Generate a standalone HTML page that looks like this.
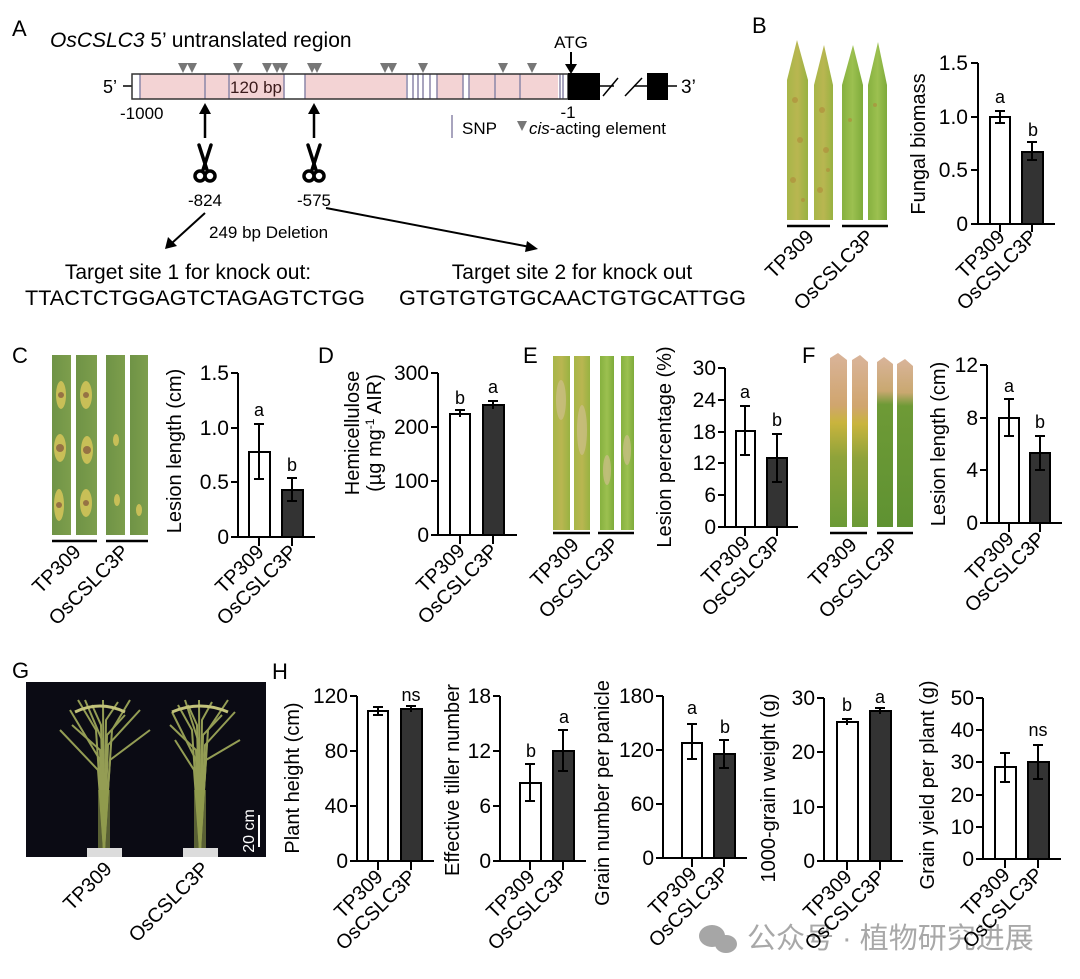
<!DOCTYPE html>
<html><head><meta charset="utf-8"><style>
html,body{margin:0;padding:0;background:#fff;}
svg{display:block;font-family:"Liberation Sans","Noto Sans CJK SC",sans-serif;}
.tk{font-size:21px;text-anchor:end}
.cl{font-size:20px;text-anchor:end}
.yl{font-size:20px;text-anchor:middle}
</style></head><body>
<svg width="1080" height="979" viewBox="0 0 1080 979" xmlns="http://www.w3.org/2000/svg">
<defs>
<linearGradient id="lfY" x1="0" x2="1"><stop offset="0" stop-color="#a7b648"/><stop offset="0.5" stop-color="#b9b651"/><stop offset="1" stop-color="#98b241"/></linearGradient>
<linearGradient id="lfG" x1="0" x2="1"><stop offset="0" stop-color="#86b13f"/><stop offset="0.5" stop-color="#9cc050"/><stop offset="1" stop-color="#7eab3a"/></linearGradient>
<linearGradient id="lfC" x1="0" x2="1"><stop offset="0" stop-color="#6f9346"/><stop offset="1" stop-color="#7d9e4c"/></linearGradient>
<linearGradient id="lfF" x1="0" x2="0" y1="0" y2="1"><stop offset="0" stop-color="#d9b49a"/><stop offset="0.3" stop-color="#d0a56e"/><stop offset="0.4" stop-color="#c9b43d"/><stop offset="0.6" stop-color="#8fa33a"/><stop offset="1" stop-color="#6b9a36"/></linearGradient>
<linearGradient id="lfF2" x1="0" x2="0" y1="0" y2="1"><stop offset="0" stop-color="#d9b49a"/><stop offset="0.2" stop-color="#c9a870"/><stop offset="0.28" stop-color="#6e9a36"/><stop offset="1" stop-color="#5f9232"/></linearGradient>
</defs>

<!-- ============ PANEL A ============ -->
<text x="12" y="36" font-size="22">A</text>
<text x="50" y="47" font-size="21"><tspan font-style="italic">OsCSLC3</tspan> 5’ untranslated region</text>
<text x="103" y="93" font-size="18">5’</text>
<line x1="123" y1="86" x2="132" y2="86" stroke="#000" stroke-width="1.5"/>
<rect x="132" y="74" width="436" height="25" fill="#f3d3d4"/>
<rect x="132" y="74" width="8" height="25" fill="#fff"/>
<rect x="284" y="74" width="21" height="25" fill="#fff"/>
<rect x="406" y="74" width="31" height="25" fill="#fff"/>
<rect x="463" y="74" width="6" height="25" fill="#fff"/>
<rect x="558" y="74" width="10" height="25" fill="#fff"/>
<g stroke="#8b86a8" stroke-width="1.5">
<line x1="140" y1="74" x2="140" y2="99"/><line x1="205" y1="74" x2="205" y2="99"/>
<line x1="229" y1="74" x2="229" y2="99"/><line x1="284" y1="74" x2="284" y2="99"/>
<line x1="305" y1="74" x2="305" y2="99"/><line x1="407" y1="74" x2="407" y2="99"/>
<line x1="413" y1="74" x2="413" y2="99"/><line x1="418" y1="74" x2="418" y2="99"/>
<line x1="423" y1="74" x2="423" y2="99"/><line x1="430" y1="74" x2="430" y2="99"/>
<line x1="437" y1="74" x2="437" y2="99"/><line x1="463" y1="74" x2="463" y2="99"/>
<line x1="469" y1="74" x2="469" y2="99"/><line x1="495" y1="74" x2="495" y2="99"/>
<line x1="520" y1="74" x2="520" y2="99"/><line x1="560" y1="74" x2="560" y2="99"/>
<line x1="563" y1="74" x2="563" y2="99"/>
</g>
<rect x="132" y="74" width="436" height="25" fill="none" stroke="#333" stroke-width="1.5"/>
<text x="230" y="93" font-size="17" fill="#3a1a1a">120 bp</text>
<rect x="568" y="73" width="32" height="27" fill="#000"/>
<line x1="600" y1="86" x2="614" y2="86" stroke="#000" stroke-width="1.5"/>
<line x1="603" y1="96" x2="618" y2="78" stroke="#000" stroke-width="1.5"/>
<line x1="625" y1="96" x2="642" y2="78" stroke="#000" stroke-width="1.5"/>
<line x1="634" y1="86" x2="647" y2="86" stroke="#000" stroke-width="1.5"/>
<rect x="647" y="73" width="21" height="27" fill="#000"/>
<line x1="668" y1="86" x2="677" y2="86" stroke="#000" stroke-width="1.5"/>
<text x="681" y="93" font-size="19">3’</text>
<text x="571" y="48" font-size="17" text-anchor="middle">ATG</text>
<line x1="571" y1="52" x2="571" y2="66" stroke="#000" stroke-width="2"/>
<polygon points="565,64 577,64 571,74" fill="#000"/>
<g fill="#777">
<polygon points="178,63 188,63 183,73"/><polygon points="187,63 197,63 192,73"/>
<polygon points="233,63 243,63 238,73"/><polygon points="262,63 272,63 267,73"/>
<polygon points="272,63 282,63 277,73"/><polygon points="278,63 288,63 283,73"/>
<polygon points="307,63 317,63 312,73"/><polygon points="312,63 322,63 317,73"/>
<polygon points="380,63 390,63 385,73"/><polygon points="387,63 397,63 392,73"/>
<polygon points="418,63 428,63 423,73"/><polygon points="498,63 508,63 503,73"/>
<polygon points="527,63 537,63 532,73"/>
</g>
<text x="120" y="119" font-size="17">-1000</text>
<text x="568" y="118" font-size="17" text-anchor="middle">-1</text>
<line x1="452" y1="115" x2="452" y2="138" stroke="#8b86a8" stroke-width="1.5"/>
<text x="462" y="134" font-size="17">SNP</text>
<polygon points="517,121 527,121 522,131" fill="#777"/>
<text x="529" y="134" font-size="17"><tspan font-style="italic">cis</tspan>-acting element</text>
<g stroke="#000" stroke-width="2.5">
<line x1="205" y1="113" x2="205" y2="138"/><line x1="314" y1="113" x2="314" y2="138"/>
</g>
<polygon points="199,114 211,114 205,103" fill="#000"/>
<polygon points="308,114 320,114 314,103" fill="#000"/>
<g stroke="#000" stroke-width="3.5" fill="none" stroke-linecap="round">
<line x1="199" y1="145" x2="207" y2="170"/><line x1="211" y1="145" x2="203" y2="170"/>
<circle cx="200" cy="176" r="5"/><circle cx="210" cy="176" r="5"/>
<line x1="308" y1="145" x2="316" y2="170"/><line x1="320" y1="145" x2="312" y2="170"/>
<circle cx="309" cy="176" r="5"/><circle cx="319" cy="176" r="5"/>
</g>
<text x="205" y="206" font-size="17" text-anchor="middle">-824</text>
<text x="314" y="206" font-size="17" text-anchor="middle">-575</text>
<line x1="205" y1="213" x2="172" y2="243" stroke="#000" stroke-width="2"/>
<polygon points="165,249 168,237 177,246" fill="#000"/>
<text x="209" y="238" font-size="17">249 bp Deletion</text>
<line x1="326" y1="208" x2="530" y2="247" stroke="#000" stroke-width="2"/>
<polygon points="538,249 527,241 525,252" fill="#000"/>
<text x="188" y="279" font-size="21" text-anchor="middle">Target site 1 for knock out:</text>
<text x="25" y="305" font-size="21" textLength="340" lengthAdjust="spacingAndGlyphs">TTACTCTGGAGTCTAGAGTCTGG</text>
<text x="572" y="279" font-size="21" text-anchor="middle">Target site 2 for knock out</text>
<text x="399" y="305" font-size="21" textLength="347" lengthAdjust="spacingAndGlyphs">GTGTGTGTGCAACTGTGCATTGG</text>

<!-- ============ PANEL B ============ -->
<text x="752" y="33" font-size="22">B</text>
<polygon points="787,220 787,80 797,40 808,80 808,220" fill="url(#lfY)"/>
<polygon points="814,220 814,85 824,45 833,85 833,220" fill="url(#lfY)"/>
<polygon points="842,220 842,85 853,45 863,85 863,220" fill="url(#lfG)"/>
<polygon points="868,220 868,85 878,42 887,85 887,220" fill="url(#lfG)"/>
<g fill="#b08a3a" opacity="0.6">
<circle cx="795" cy="100" r="3"/><circle cx="800" cy="140" r="3"/><circle cx="793" cy="180" r="3"/><circle cx="803" cy="200" r="2"/>
<circle cx="822" cy="110" r="3"/><circle cx="826" cy="150" r="3"/><circle cx="820" cy="190" r="3"/><circle cx="828" cy="170" r="2"/>
<circle cx="850" cy="120" r="2"/><circle cx="875" cy="105" r="2"/>
</g>
<g stroke="#000" stroke-width="2.5"><line x1="787" y1="226" x2="830" y2="226"/><line x1="842" y1="226" x2="888" y2="226"/></g>
<text transform="translate(815,238) rotate(-45)" class="cl">TP309</text>
<text transform="translate(875,238) rotate(-45)" class="cl">OsCSLC3P</text>
<text transform="translate(925,144) rotate(-90)" class="yl">Fungal biomass</text>
<g stroke="#000" stroke-width="2" fill="none">
<line x1="978" y1="63" x2="978" y2="225"/><line x1="977" y1="224" x2="1055" y2="224"/>
<line x1="971" y1="224" x2="978" y2="224"/><line x1="971" y1="170" x2="978" y2="170"/><line x1="971" y1="117" x2="978" y2="117"/><line x1="971" y1="63" x2="978" y2="63"/>
<line x1="1000" y1="224" x2="1000" y2="232"/><line x1="1032" y1="224" x2="1032" y2="232"/>
<rect x="990" y="117" width="20" height="107" fill="#fff"/>
<rect x="1022" y="152" width="21" height="72" fill="#333"/>
<line x1="1000" y1="111" x2="1000" y2="123"/><line x1="995" y1="111" x2="1005" y2="111"/><line x1="995" y1="123" x2="1005" y2="123"/>
<line x1="1032" y1="142" x2="1032" y2="160"/><line x1="1027" y1="142" x2="1037" y2="142"/><line x1="1027" y1="160" x2="1037" y2="160"/>
</g>
<g class="tk"><text x="968" y="231">0</text><text x="968" y="177">0.5</text><text x="968" y="124">1.0</text><text x="968" y="70">1.5</text></g>
<text x="1000" y="103" font-size="18" text-anchor="middle">a</text>
<text x="1033" y="136" font-size="18" text-anchor="middle">b</text>
<text transform="translate(1006,238) rotate(-45)" class="cl">TP309</text>
<text transform="translate(1038,238) rotate(-45)" class="cl">OsCSLC3P</text>

<!-- ============ PANEL C ============ -->
<text x="12" y="363" font-size="22">C</text>
<rect x="52" y="355" width="19" height="180" fill="url(#lfC)"/>
<rect x="76" y="355" width="21" height="180" fill="url(#lfC)"/>
<rect x="106" y="355" width="19" height="180" fill="url(#lfC)"/>
<rect x="130" y="355" width="18" height="180" fill="url(#lfC)"/>
<g fill="#d7c65a" opacity="0.85">
<ellipse cx="61" cy="395" rx="5" ry="14"/><ellipse cx="60" cy="448" rx="6" ry="14"/><ellipse cx="59" cy="505" rx="5" ry="16"/>
<ellipse cx="86" cy="395" rx="6" ry="14"/><ellipse cx="87" cy="450" rx="6" ry="14"/><ellipse cx="86" cy="503" rx="6" ry="14"/>
<ellipse cx="116" cy="440" rx="3" ry="6"/><ellipse cx="117" cy="500" rx="3" ry="6"/><ellipse cx="139" cy="510" rx="3" ry="6"/>
</g>
<g fill="#8a6040" opacity="0.8"><circle cx="61" cy="395" r="3"/><circle cx="60" cy="448" r="4"/><circle cx="59" cy="505" r="3"/><circle cx="86" cy="395" r="3"/><circle cx="87" cy="450" r="4"/><circle cx="86" cy="503" r="3"/></g>
<g stroke="#000" stroke-width="2.5"><line x1="52" y1="541" x2="97" y2="541"/><line x1="106" y1="541" x2="148" y2="541"/></g>
<text transform="translate(82,553) rotate(-45)" class="cl">TP309</text>
<text transform="translate(130,553) rotate(-45)" class="cl">OsCSLC3P</text>
<text transform="translate(181,451) rotate(-90)" class="yl">Lesion length (cm)</text>
<g stroke="#000" stroke-width="2" fill="none">
<line x1="238" y1="373" x2="238" y2="538"/><line x1="237" y1="537" x2="315" y2="537"/>
<line x1="231" y1="537" x2="238" y2="537"/><line x1="231" y1="482" x2="238" y2="482"/><line x1="231" y1="428" x2="238" y2="428"/><line x1="231" y1="373" x2="238" y2="373"/>
<line x1="259" y1="537" x2="259" y2="546"/><line x1="292" y1="537" x2="292" y2="546"/>
<rect x="249" y="452" width="21" height="85" fill="#fff"/>
<rect x="282" y="490" width="21" height="47" fill="#333"/>
<line x1="259" y1="424" x2="259" y2="479"/><line x1="254" y1="424" x2="264" y2="424"/><line x1="254" y1="479" x2="264" y2="479"/>
<line x1="292" y1="478" x2="292" y2="501"/><line x1="287" y1="478" x2="297" y2="478"/><line x1="287" y1="501" x2="297" y2="501"/>
</g>
<g class="tk"><text x="229" y="544">0</text><text x="229" y="489">0.5</text><text x="229" y="435">1.0</text><text x="229" y="380">1.5</text></g>
<text x="259" y="416" font-size="18" text-anchor="middle">a</text>
<text x="292" y="471" font-size="18" text-anchor="middle">b</text>
<text transform="translate(265,553) rotate(-45)" class="cl">TP309</text>
<text transform="translate(298,553) rotate(-45)" class="cl">OsCSLC3P</text>

<!-- ============ PANEL D ============ -->
<text x="318" y="363" font-size="22">D</text>
<text transform="translate(359,433) rotate(-90)" class="yl">Hemicellulose</text>
<text transform="translate(381,433) rotate(-90)" class="yl">(µg mg<tspan font-size="12" dy="-7">-1</tspan><tspan dy="7"> AIR)</tspan></text>
<g stroke="#000" stroke-width="2" fill="none">
<line x1="438" y1="373" x2="438" y2="536"/><line x1="437" y1="535" x2="517" y2="535"/>
<line x1="431" y1="535" x2="438" y2="535"/><line x1="431" y1="481" x2="438" y2="481"/><line x1="431" y1="427" x2="438" y2="427"/><line x1="431" y1="373" x2="438" y2="373"/>
<line x1="460" y1="535" x2="460" y2="544"/><line x1="493" y1="535" x2="493" y2="544"/>
<rect x="450" y="414" width="20" height="121" fill="#fff"/>
<rect x="483" y="405" width="21" height="130" fill="#333"/>
<line x1="460" y1="410" x2="460" y2="417"/><line x1="455" y1="410" x2="465" y2="410"/>
<line x1="493" y1="401" x2="493" y2="409"/><line x1="488" y1="401" x2="498" y2="401"/>
</g>
<g class="tk"><text x="429" y="542">0</text><text x="429" y="488">100</text><text x="429" y="434">200</text><text x="429" y="380">300</text></g>
<text x="460" y="404" font-size="18" text-anchor="middle">b</text>
<text x="493" y="393" font-size="18" text-anchor="middle">a</text>
<text transform="translate(466,552) rotate(-45)" class="cl">TP309</text>
<text transform="translate(499,552) rotate(-45)" class="cl">OsCSLC3P</text>

<!-- ============ PANEL E ============ -->
<text x="523" y="363" font-size="22">E</text>
<rect x="553" y="356" width="17" height="174" fill="url(#lfY)"/>
<rect x="574" y="356" width="16" height="174" fill="url(#lfY)"/>
<rect x="600" y="356" width="14" height="174" fill="url(#lfG)"/>
<rect x="621" y="356" width="13" height="174" fill="url(#lfG)"/>
<g fill="#cdbf8a" opacity="0.7"><ellipse cx="561" cy="400" rx="5" ry="20"/><ellipse cx="582" cy="430" rx="5" ry="25"/><ellipse cx="607" cy="470" rx="4" ry="15"/><ellipse cx="627" cy="450" rx="4" ry="15"/></g>
<g stroke="#000" stroke-width="2.5"><line x1="553" y1="533" x2="590" y2="533"/><line x1="598" y1="533" x2="634" y2="533"/></g>
<text transform="translate(580,546) rotate(-45)" class="cl">TP309</text>
<text transform="translate(620,546) rotate(-45)" class="cl">OsCSLC3P</text>
<text transform="translate(671,447) rotate(-90)" class="yl">Lesion percentage (%)</text>
<g stroke="#000" stroke-width="2" fill="none">
<line x1="725" y1="368" x2="725" y2="528"/><line x1="724" y1="527" x2="798" y2="527"/>
<line x1="718" y1="527" x2="725" y2="527"/><line x1="718" y1="495" x2="725" y2="495"/><line x1="718" y1="463" x2="725" y2="463"/><line x1="718" y1="432" x2="725" y2="432"/><line x1="718" y1="400" x2="725" y2="400"/><line x1="718" y1="368" x2="725" y2="368"/>
<line x1="745" y1="527" x2="745" y2="536"/><line x1="777" y1="527" x2="777" y2="536"/>
<rect x="736" y="431" width="19" height="96" fill="#fff"/>
<rect x="767" y="458" width="20" height="69" fill="#333"/>
<line x1="745" y1="406" x2="745" y2="455"/><line x1="740" y1="406" x2="750" y2="406"/><line x1="740" y1="455" x2="750" y2="455"/>
<line x1="777" y1="434" x2="777" y2="482"/><line x1="772" y1="434" x2="782" y2="434"/><line x1="772" y1="482" x2="782" y2="482"/>
</g>
<g class="tk"><text x="716" y="534">0</text><text x="716" y="502">6</text><text x="716" y="470">12</text><text x="716" y="439">18</text><text x="716" y="407">24</text><text x="716" y="375">30</text></g>
<text x="745" y="398" font-size="18" text-anchor="middle">a</text>
<text x="777" y="426" font-size="18" text-anchor="middle">b</text>
<text transform="translate(751,544) rotate(-45)" class="cl">TP309</text>
<text transform="translate(783,544) rotate(-45)" class="cl">OsCSLC3P</text>

<!-- ============ PANEL F ============ -->
<text x="802" y="363" font-size="22">F</text>
<polygon points="830,527 830,358 838,353 847,360 847,527" fill="url(#lfF)"/>
<polygon points="852,527 852,360 860,355 868,362 868,527" fill="url(#lfF)"/>
<polygon points="877,527 877,362 884,357 893,364 893,527" fill="url(#lfF2)"/>
<polygon points="897,527 897,364 905,359 913,366 913,527" fill="url(#lfF2)"/>
<g stroke="#000" stroke-width="2.5"><line x1="830" y1="533" x2="867" y2="533"/><line x1="877" y1="533" x2="913" y2="533"/></g>
<text transform="translate(858,546) rotate(-45)" class="cl">TP309</text>
<text transform="translate(900,546) rotate(-45)" class="cl">OsCSLC3P</text>
<text transform="translate(945,444) rotate(-90)" class="yl">Lesion length (cm)</text>
<g stroke="#000" stroke-width="2" fill="none">
<line x1="987" y1="365" x2="987" y2="524"/><line x1="986" y1="523" x2="1062" y2="523"/>
<line x1="980" y1="523" x2="987" y2="523"/><line x1="980" y1="470" x2="987" y2="470"/><line x1="980" y1="418" x2="987" y2="418"/><line x1="980" y1="365" x2="987" y2="365"/>
<line x1="1009" y1="523" x2="1009" y2="532"/><line x1="1040" y1="523" x2="1040" y2="532"/>
<rect x="999" y="418" width="20" height="105" fill="#fff"/>
<rect x="1030" y="453" width="20" height="70" fill="#333"/>
<line x1="1009" y1="399" x2="1009" y2="436"/><line x1="1004" y1="399" x2="1014" y2="399"/><line x1="1004" y1="436" x2="1014" y2="436"/>
<line x1="1040" y1="436" x2="1040" y2="470"/><line x1="1035" y1="436" x2="1045" y2="436"/><line x1="1035" y1="470" x2="1045" y2="470"/>
</g>
<g class="tk"><text x="978" y="530">0</text><text x="978" y="477">4</text><text x="978" y="425">8</text><text x="978" y="372">12</text></g>
<text x="1009" y="392" font-size="18" text-anchor="middle">a</text>
<text x="1040" y="428" font-size="18" text-anchor="middle">b</text>
<text transform="translate(1015,540) rotate(-45)" class="cl">TP309</text>
<text transform="translate(1046,540) rotate(-45)" class="cl">OsCSLC3P</text>

<!-- ============ PANEL G ============ -->
<text x="12" y="678" font-size="22">G</text>
<rect x="26" y="682" width="240" height="175" fill="#0b0b14"/>
<g stroke="#a3ad5c" stroke-width="2" fill="none" opacity="0.9">
<path d="M104 850 L100 760 L70 710"/><path d="M104 850 L102 740 L85 700"/><path d="M104 850 L106 720 L118 702"/>
<path d="M104 850 L108 745 L140 710"/><path d="M104 850 L110 760 L150 730"/><path d="M104 850 L98 770 L60 730"/>
<path d="M104 850 L103 700"/><path d="M104 850 L96 730 L78 700"/><path d="M104 850 L112 730 L130 700"/>
<path d="M104 850 L100 750 L72 725"/><path d="M104 850 L107 735 L125 715"/><path d="M104 850 L101 725 L92 705"/>
<path d="M200 850 L196 760 L172 712"/><path d="M200 850 L198 740 L185 700"/><path d="M200 850 L202 720 L212 702"/>
<path d="M200 850 L205 745 L235 712"/><path d="M200 850 L206 760 L240 740"/><path d="M200 850 L194 770 L175 740"/>
<path d="M200 850 L199 700"/><path d="M200 850 L192 730 L178 705"/><path d="M200 850 L208 730 L228 700"/>
<path d="M200 850 L196 750 L170 725"/><path d="M200 850 L203 735 L222 715"/><path d="M200 850 L197 725 L188 705"/>
</g>
<g stroke="#c2c27a" stroke-width="3" fill="none"><path d="M75 712 Q100 700 125 712"/><path d="M172 712 Q200 700 228 712"/></g>
<rect x="98" y="790" width="12" height="60" fill="#8e9a4a" opacity="0.6"/>
<rect x="194" y="790" width="12" height="60" fill="#8e9a4a" opacity="0.6"/>
<rect x="87" y="848" width="35" height="9" fill="#dcdcdc"/>
<rect x="183" y="848" width="35" height="9" fill="#dcdcdc"/>
<line x1="259" y1="815" x2="259" y2="847" stroke="#fff" stroke-width="2"/>
<text transform="translate(254,831) rotate(-90)" font-size="16" fill="#fff" text-anchor="middle">20 cm</text>
<text transform="translate(113,870) rotate(-45)" class="cl">TP309</text>
<text transform="translate(210,870) rotate(-45)" class="cl">OsCSLC3P</text>

<!-- ============ PANEL H ============ -->
<text x="272" y="679" font-size="22">H</text>
<text transform="translate(299,778) rotate(-90)" class="yl">Plant height (cm)</text>
<g stroke="#000" stroke-width="2" fill="none">
<line x1="357" y1="696" x2="357" y2="862"/><line x1="356" y1="861" x2="434" y2="861"/>
<line x1="350" y1="861" x2="357" y2="861"/><line x1="350" y1="806" x2="357" y2="806"/><line x1="350" y1="751" x2="357" y2="751"/><line x1="350" y1="696" x2="357" y2="696"/>
<line x1="378" y1="861" x2="378" y2="870"/><line x1="411" y1="861" x2="411" y2="870"/>
<rect x="368" y="711" width="20" height="150" fill="#fff"/>
<rect x="401" y="709" width="21" height="152" fill="#333"/>
<line x1="378" y1="707" x2="378" y2="715"/><line x1="373" y1="707" x2="383" y2="707"/><line x1="373" y1="715" x2="383" y2="715"/>
<line x1="411" y1="706" x2="411" y2="712"/><line x1="406" y1="706" x2="416" y2="706"/>
</g>
<g class="tk"><text x="348" y="868">0</text><text x="348" y="813">40</text><text x="348" y="758">80</text><text x="348" y="703">120</text></g>
<text x="411" y="701" font-size="18" text-anchor="middle">ns</text>
<text transform="translate(384,878) rotate(-45)" class="cl">TP309</text>
<text transform="translate(417,878) rotate(-45)" class="cl">OsCSLC3P</text>

<text transform="translate(459,780) rotate(-90)" class="yl">Effective tiller number</text>
<g stroke="#000" stroke-width="2" fill="none">
<line x1="500" y1="696" x2="500" y2="862"/><line x1="499" y1="861" x2="586" y2="861"/>
<line x1="493" y1="861" x2="500" y2="861"/><line x1="493" y1="806" x2="500" y2="806"/><line x1="493" y1="751" x2="500" y2="751"/><line x1="493" y1="696" x2="500" y2="696"/>
<line x1="530" y1="861" x2="530" y2="870"/><line x1="563" y1="861" x2="563" y2="870"/>
<rect x="520" y="783" width="21" height="78" fill="#fff"/>
<rect x="553" y="751" width="21" height="110" fill="#333"/>
<line x1="530" y1="764" x2="530" y2="801"/><line x1="525" y1="764" x2="535" y2="764"/><line x1="525" y1="801" x2="535" y2="801"/>
<line x1="563" y1="730" x2="563" y2="771"/><line x1="558" y1="730" x2="568" y2="730"/><line x1="558" y1="771" x2="568" y2="771"/>
</g>
<g class="tk"><text x="491" y="868">0</text><text x="491" y="813">6</text><text x="491" y="758">12</text><text x="491" y="703">18</text></g>
<text x="531" y="757" font-size="18" text-anchor="middle">b</text>
<text x="564" y="723" font-size="18" text-anchor="middle">a</text>
<text transform="translate(536,878) rotate(-45)" class="cl">TP309</text>
<text transform="translate(569,878) rotate(-45)" class="cl">OsCSLC3P</text>

<text transform="translate(609,793) rotate(-90)" class="yl">Grain number per panicle</text>
<g stroke="#000" stroke-width="2" fill="none">
<line x1="663" y1="696" x2="663" y2="859"/><line x1="662" y1="858" x2="747" y2="858"/>
<line x1="656" y1="858" x2="663" y2="858"/><line x1="656" y1="804" x2="663" y2="804"/><line x1="656" y1="750" x2="663" y2="750"/><line x1="656" y1="696" x2="663" y2="696"/>
<line x1="692" y1="858" x2="692" y2="867"/><line x1="724" y1="858" x2="724" y2="867"/>
<rect x="682" y="743" width="20" height="115" fill="#fff"/>
<rect x="714" y="754" width="21" height="104" fill="#333"/>
<line x1="692" y1="724" x2="692" y2="759"/><line x1="687" y1="724" x2="697" y2="724"/><line x1="687" y1="759" x2="697" y2="759"/>
<line x1="724" y1="740" x2="724" y2="768"/><line x1="719" y1="740" x2="729" y2="740"/><line x1="719" y1="768" x2="729" y2="768"/>
</g>
<g class="tk"><text x="654" y="865">0</text><text x="654" y="811">60</text><text x="654" y="757">120</text><text x="654" y="703">180</text></g>
<text x="692" y="714" font-size="18" text-anchor="middle">a</text>
<text x="725" y="733" font-size="18" text-anchor="middle">b</text>
<text transform="translate(698,875) rotate(-45)" class="cl">TP309</text>
<text transform="translate(730,875) rotate(-45)" class="cl">OsCSLC3P</text>

<text transform="translate(775,788) rotate(-90)" class="yl">1000-grain weight (g)</text>
<g stroke="#000" stroke-width="2" fill="none">
<line x1="824" y1="698" x2="824" y2="862"/><line x1="823" y1="861" x2="903" y2="861"/>
<line x1="817" y1="861" x2="824" y2="861"/><line x1="817" y1="807" x2="824" y2="807"/><line x1="817" y1="752" x2="824" y2="752"/><line x1="817" y1="698" x2="824" y2="698"/>
<line x1="847" y1="861" x2="847" y2="870"/><line x1="880" y1="861" x2="880" y2="870"/>
<rect x="837" y="722" width="21" height="139" fill="#fff"/>
<rect x="870" y="711" width="21" height="150" fill="#333"/>
<line x1="847" y1="719" x2="847" y2="725"/><line x1="842" y1="719" x2="852" y2="719"/>
<line x1="880" y1="708" x2="880" y2="714"/><line x1="875" y1="708" x2="885" y2="708"/>
</g>
<g class="tk"><text x="815" y="868">0</text><text x="815" y="814">10</text><text x="815" y="759">20</text><text x="815" y="705">30</text></g>
<text x="847" y="711" font-size="18" text-anchor="middle">b</text>
<text x="880" y="703" font-size="18" text-anchor="middle">a</text>

<text transform="translate(934,785) rotate(-90)" class="yl">Grain yield per plant (g)</text>
<g stroke="#000" stroke-width="2" fill="none">
<line x1="983" y1="698" x2="983" y2="860"/><line x1="982" y1="859" x2="1061" y2="859"/>
<line x1="976" y1="859" x2="983" y2="859"/><line x1="976" y1="827" x2="983" y2="827"/><line x1="976" y1="795" x2="983" y2="795"/><line x1="976" y1="762" x2="983" y2="762"/><line x1="976" y1="730" x2="983" y2="730"/><line x1="976" y1="698" x2="983" y2="698"/>
<line x1="1005" y1="859" x2="1005" y2="868"/><line x1="1038" y1="859" x2="1038" y2="868"/>
<rect x="995" y="767" width="21" height="92" fill="#fff"/>
<rect x="1028" y="762" width="21" height="97" fill="#333"/>
<line x1="1005" y1="753" x2="1005" y2="782"/><line x1="1000" y1="753" x2="1010" y2="753"/><line x1="1000" y1="782" x2="1010" y2="782"/>
<line x1="1038" y1="745" x2="1038" y2="779"/><line x1="1033" y1="745" x2="1043" y2="745"/><line x1="1033" y1="779" x2="1043" y2="779"/>
</g>
<g class="tk"><text x="974" y="866">0</text><text x="974" y="834">10</text><text x="974" y="802">20</text><text x="974" y="769">30</text><text x="974" y="737">40</text><text x="974" y="705">50</text></g>
<text x="1038" y="736" font-size="18" text-anchor="middle">ns</text>

<g fill="#a6a6a6">
<ellipse cx="712" cy="936" rx="13" ry="11"/><ellipse cx="726" cy="944" rx="11" ry="9"/>
</g>
<text x="747" y="948" font-size="29" fill="#a8a8a8">公众号 · 植物研究进展</text>
<text transform="translate(853,878) rotate(-45)" class="cl">TP309</text>
<text transform="translate(886,878) rotate(-45)" class="cl">OsCSLC3P</text>
<text transform="translate(1011,876) rotate(-45)" class="cl">TP309</text>
<text transform="translate(1044,876) rotate(-45)" class="cl">OsCSLC3P</text>
</svg>
</body></html>
